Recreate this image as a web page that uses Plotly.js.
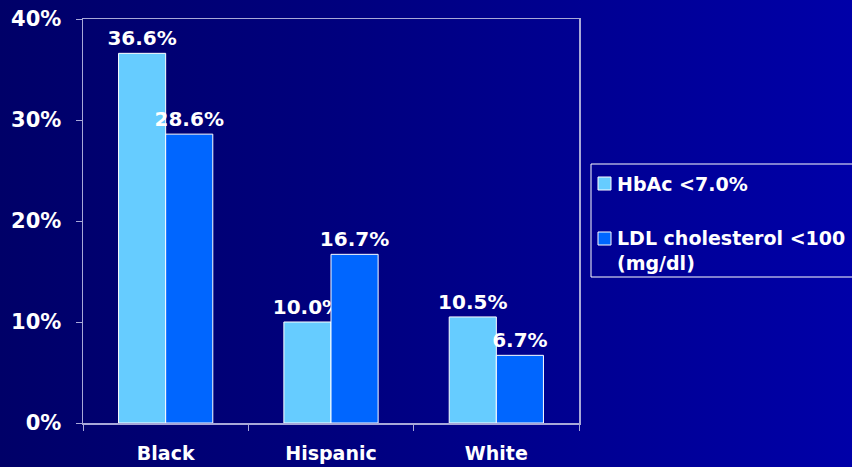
<!DOCTYPE html>
<html>
<head>
<meta charset="utf-8">
<script src="https://cdn.plot.ly/plotly-3.0.1.min.js"></script>
<style>
html,body{margin:0;padding:0;width:852px;height:467px;overflow:hidden;}
body{background:linear-gradient(to right,#000068 0%,#00007e 40%,#0000a8 100%);}
#chart{width:852px;height:467px;}
</style>
</head>
<body>
<div id="chart"></div>
<script>
var categories = ["Black", "Hispanic", "White"];
var hbacValues = [36.6, 10.0, 10.5];
var ldlValues = [28.6, 16.7, 6.7];
var seriesNames = ["HbAc <7.0%", "LDL cholesterol <100<br>(mg/dl)"];
var seriesColors = ["#66ccff", "#0066ff"];
var yTickVals = [0, 10, 20, 30, 40];
var yTickText = ["0%", "10%", "20%", "30%", "40%"];

var font = "DejaVu Sans, Verdana, sans-serif";
function fmt(v){ return v.toFixed(1) + "%"; }

// plot area in pixels: x 83..579, y 19..423
var L = 83, R = 579, T = 19, B = 423;
function px(x){ return (x - L) / (R - L); }
function py(y){ return (B - y) / (B - T); }

var traces = [
  {
    type: "bar", name: seriesNames[0], x: categories, y: hbacValues,
    text: hbacValues.map(fmt), textposition: "outside", cliponaxis: false,
    constraintext: "none",
    textfont: {family: font, size: 20, color: "#ffffff", weight: "bold"},
    marker: {color: seriesColors[0], line: {color: "#ffffff", width: 1}},
    hoverinfo: "none"
  },
  {
    type: "bar", name: seriesNames[1], x: categories, y: ldlValues,
    text: ldlValues.map(fmt), textposition: "outside", cliponaxis: false,
    constraintext: "none",
    textfont: {family: font, size: 20, color: "#ffffff", weight: "bold"},
    marker: {color: seriesColors[1], line: {color: "#ffffff", width: 1}},
    hoverinfo: "none"
  }
];

var legendFont = {family: font, size: 19, color: "#ffffff", weight: "bold"};
var shapes = [
  {type: "rect", xref: "paper", yref: "paper", x0: px(591), x1: px(860), y0: py(277), y1: py(164),
   line: {color: "#ffffff", width: 1}, fillcolor: "rgba(0,0,0,0)"},
  {type: "rect", xref: "paper", yref: "paper", x0: px(598), x1: px(611), y0: py(190), y1: py(177),
   line: {color: "#ffffff", width: 1}, fillcolor: seriesColors[0]},
  {type: "rect", xref: "paper", yref: "paper", x0: px(598), x1: px(611), y0: py(245), y1: py(232),
   line: {color: "#ffffff", width: 1}, fillcolor: seriesColors[1]}
];
var annotations = [
  {xref: "paper", yref: "paper", x: px(615), y: py(184), xanchor: "left", yanchor: "middle",
   text: seriesNames[0], showarrow: false, font: legendFont, align: "left"},
  {xref: "paper", yref: "paper", x: px(615), y: py(225), xanchor: "left", yanchor: "top",
   text: seriesNames[1], showarrow: false, font: legendFont, align: "left"}
];

var layout = {
  width: 852, height: 467,
  paper_bgcolor: "rgba(0,0,0,0)",
  plot_bgcolor: "rgba(0,0,0,0)",
  margin: {l: L, r: 852 - R, t: T, b: 467 - B, pad: 0},
  barmode: "group",
  bargap: 0.43,
  bargroupgap: 0,
  showlegend: false,
  shapes: shapes,
  annotations: annotations,
  xaxis: {
    type: "category",
    showline: true, linecolor: "#a8a8d8", linewidth: 1.5, mirror: true,
    ticks: "outside", tickson: "boundaries", ticklen: 6, tickcolor: "#a8a8d8",
    tickfont: {family: font, size: 19, color: "#ffffff", weight: "bold"},
    ticklabelstandoff: 13,
    showgrid: false, zeroline: false, fixedrange: true
  },
  yaxis: {
    range: [0, 40],
    tickvals: yTickVals, ticktext: yTickText,
    showline: true, linecolor: "#a8a8d8", linewidth: 1.5, mirror: true,
    ticks: "outside", ticklen: 6, tickcolor: "#a8a8d8",
    tickfont: {family: font, size: 21, color: "#ffffff", weight: "bold"},
    ticklabelstandoff: 10,
    showgrid: false, zeroline: false, fixedrange: true
  }
};

Plotly.newPlot("chart", traces, layout, {displayModeBar: false, staticPlot: true});
</script>
</body>
</html>
